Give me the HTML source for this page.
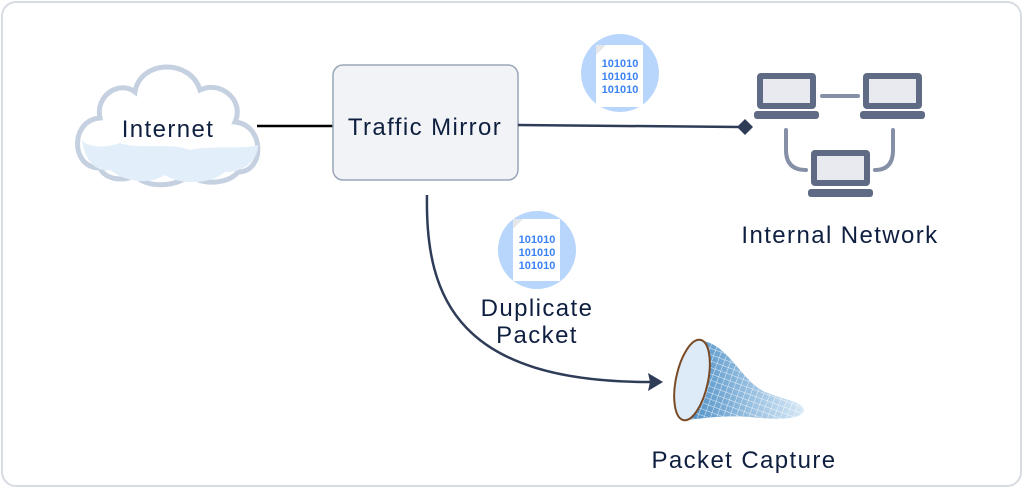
<!DOCTYPE html>
<html><head><meta charset="utf-8"><style>
html,body{margin:0;padding:0;background:#fff;}
svg{display:block;font-family:"Liberation Sans",sans-serif;}
.t{font-size:24px;fill:#0f1f40;text-anchor:middle;letter-spacing:1.4px;}
</style></head><body>
<svg width="1024" height="489" viewBox="0 0 1024 489">
<defs>
<linearGradient id="net" x1="0" y1="0" x2="1" y2="0">
<stop offset="0" stop-color="#4d8fc6"/><stop offset="1" stop-color="#d6e8f6"/></linearGradient>
<pattern id="mesh" width="6" height="6" patternUnits="userSpaceOnUse" patternTransform="rotate(20)">
<path d="M0 0H6M0 0V6" stroke="#fff" stroke-width="1" opacity="0.8"/></pattern>
</defs>
<rect x="2" y="2" width="1019" height="484" rx="14" fill="#fff" stroke="#d7dbe2" stroke-width="2"/>
<!-- cloud -->
<path d="M100 168 C70 168 70 120 100 118 C95 95 120 80 135 92 C140 60 190 58 200 90 C220 80 245 100 235 122 C265 125 265 172 238 172 C228 185 200 185 190 175 C175 188 145 188 135 175 C125 182 105 180 100 168Z" fill="#fff" stroke="#c5d1e0" stroke-width="5"/>
<path d="M82 140 C85 165 100 172 110 170 C125 182 150 185 165 175 C180 185 210 185 225 172 C245 172 258 160 258 145 C240 150 210 145 190 150 C170 142 140 150 120 143 C100 150 85 145 82 140Z" fill="#e2effa"/>
<text x="168" y="137" class="t">Internet</text>
<line x1="257" y1="126" x2="333" y2="126" stroke="#000" stroke-width="2.5"/>
<!-- traffic mirror -->
<rect x="333" y="65" width="185" height="115" rx="10" fill="#f2f3f6" stroke="#9aa6b8" stroke-width="1.5"/>
<text x="425" y="135" class="t">Traffic Mirror</text>
<line x1="518" y1="125" x2="740" y2="127" stroke="#2e3c58" stroke-width="2.5"/>
<path d="M745 119 L753 127 L745 135 L737 127Z" fill="#2e3c58"/>
<!-- packet 1 -->
<circle cx="620" cy="73" r="39" fill="#b8d5fb"/>
<path d="M596 45 H643 V107 H596 V55 Z" fill="#fff"/>
<path d="M596 45 L606 45 L596 55Z" fill="#e5e7eb"/>
<text font-size="11" font-weight="bold" fill="#3b82f6" text-anchor="middle"><tspan x="620" y="67">101010</tspan><tspan x="620" y="80">101010</tspan><tspan x="620" y="93">101010</tspan></text>
<!-- laptops -->
<g fill="#5f6b84">
<rect x="757" y="73" width="59" height="36" rx="4"/><rect x="754" y="111" width="65" height="8" rx="3"/>
<rect x="863" y="73" width="59" height="36" rx="4"/><rect x="860" y="111" width="65" height="8" rx="3"/>
<rect x="811" y="150" width="59" height="36" rx="4"/><rect x="808" y="189" width="65" height="8" rx="3"/>
</g>
<g fill="#e8eaef"><rect x="763" y="79" width="47" height="24"/><rect x="869" y="79" width="47" height="24"/><rect x="817" y="156" width="47" height="24"/></g>
<g stroke="#8590a6" stroke-width="4" fill="none" stroke-linecap="round">
<line x1="822" y1="96" x2="858" y2="96"/>
<path d="M786 130 V150 Q786 170 806 170"/>
<path d="M893 130 V150 Q893 170 875 170"/>
</g>
<text x="840" y="243" class="t">Internal Network</text>
<!-- curve -->
<path d="M427 195 C425 300 460 382 650 382" fill="none" stroke="#2e3c58" stroke-width="2.5"/>
<path d="M663 382 L648 373 L650 382 L648 391Z" fill="#2e3c58"/>
<!-- packet 2 -->
<circle cx="537" cy="250" r="39" fill="#b8d5fb"/>
<path d="M513 219 H560 V281 H513 V229 Z" fill="#fff"/>
<path d="M513 219 L523 219 L513 229Z" fill="#e5e7eb"/>
<text font-size="11" font-weight="bold" fill="#3b82f6" text-anchor="middle"><tspan x="537" y="243">101010</tspan><tspan x="537" y="256">101010</tspan><tspan x="537" y="269">101010</tspan></text>
<text class="t"><tspan x="537" y="316">Duplicate</tspan><tspan x="537" y="343">Packet</tspan></text>
<!-- net -->
<path d="M700 340 C730 345 740 380 765 392 C785 400 803 402 804 410 C803 420 775 420 750 417 C725 415 705 418 686 420 Z" fill="url(#net)"/>
<path d="M700 340 C730 345 740 380 765 392 C785 400 803 402 804 410 C803 420 775 420 750 417 C725 415 705 418 686 420 Z" fill="url(#mesh)"/>
<ellipse cx="692" cy="380" rx="16" ry="41" transform="rotate(12 692 380)" fill="#dcebf7" stroke="#7a4a25" stroke-width="2"/>
<text x="744" y="468" class="t">Packet Capture</text>
</svg>
</body></html>
